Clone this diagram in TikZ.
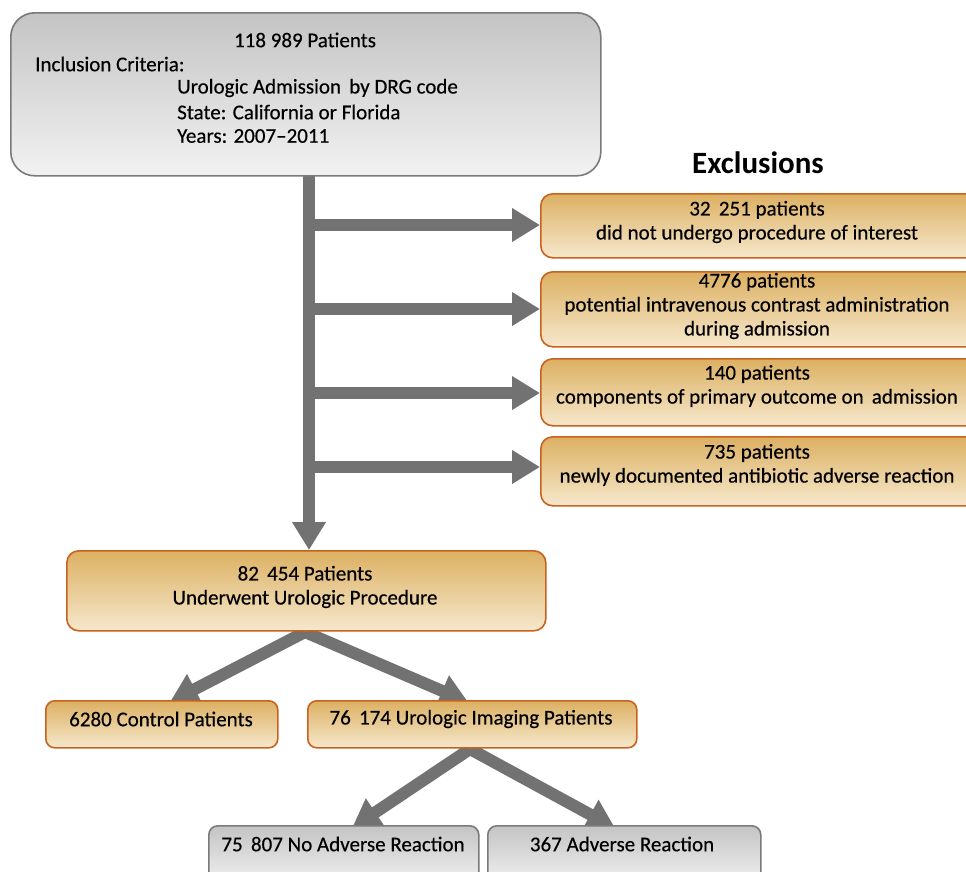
\documentclass[tikz,border=0pt]{standalone}
\usepackage{fontspec}
\setmainfont{Carlito}[FakeBold=0.4]
\newfontfamily\boldhead{Carlito}[FakeStretch=1.0]
\usetikzlibrary{arrows.meta}
\definecolor{arrowgray}{HTML}{727272}
\definecolor{orborder}{HTML}{C8621E}
\definecolor{ortop}{HTML}{DCB062}
\definecolor{orbot}{HTML}{F6E8CC}
\definecolor{grtop}{HTML}{C4C4C4}
\definecolor{grbot}{HTML}{F2F2F2}
\definecolor{grborder}{HTML}{7A7A7A}
\tikzset{
  txt/.style={font=\fontsize{21}{24}\selectfont, inner sep=0pt, align=center},
  orbox/.style={draw=orborder, line width=1.6pt, rounded corners=12pt, top color=ortop, bottom color=orbot, anchor=north west, inner sep=0pt},
  grbox/.style={draw=grborder, line width=1.6pt, rounded corners=12pt, top color=grtop, bottom color=grbot, anchor=north west, inner sep=0pt},
  flow/.style={draw=arrowgray, line width=12pt, -{Triangle[width=32pt,length=28pt]}, arrowgray},
  trunk/.style={draw=arrowgray, line width=12pt}
}
\begin{document}
\begin{tikzpicture}[x=1pt,y=-1pt]
\useasboundingbox (0,0) rectangle (966,871);
\clip (0,0) rectangle (966,871);
\fill[white] (0,0) rectangle (966,871);

% coordinates
\coordinate (t0) at (309,172);
\coordinate (b1) at (309,225);
\coordinate (b2) at (309,309);
\coordinate (b3) at (309,393);
\coordinate (b4) at (309,467);

% connectors (drawn first, boxes cover ends)
\path[flow] (t0) -- (309,550) coordinate (t1);
\path[flow] ([xshift=-6pt]b1) -- (540,225) coordinate (e1w);
\path[flow] ([xshift=-6pt]b2) -- (540,309) coordinate (e2w);
\path[flow] ([xshift=-6pt]b3) -- (540,393) coordinate (e3w);
\path[flow] ([xshift=-6pt]b4) -- (540,467) coordinate (e4w);

\coordinate (p82) at (305,632);
\coordinate (p76) at (470,749);
\path[flow] (p82) -- (170,702) coordinate (c1);
\path[flow] (p82) -- (468,702) coordinate (c2);
\path[flow] (p76) -- (352,828) coordinate (c3);
\path[flow] (p76) -- (615,828) coordinate (c4);

% top box
\node[grbox, rounded corners=24pt, minimum width=590pt, minimum height=163pt] (top) at (10,12) {};
\node[txt] (topa) at (305,40) {118 989 Patients};
\node[txt, anchor=west] (topb) at (35,64) {Inclusion Criteria:};
\node[txt, anchor=west] (topc) at (177,88) {Urologic Admission \,by DRG code};
\node[txt, anchor=west] (topd) at (177,112) {State: California or Florida};
\node[txt, anchor=west] (tope) at (177,136) {Years: 2007--2011};

\node[font=\boldhead\fontsize{31}{34}\selectfont\bfseries, inner sep=0pt] (excl) at (758,163) {Exclusions};

% exclusion boxes
\node[orbox, minimum width=440pt, minimum height=64pt] (ex1) at (540,193) {};
\node[txt] (ex1t) at (757,222) {32 \,251 patients\\did not undergo procedure of interest};
\node[orbox, minimum width=440pt, minimum height=75pt] (ex2) at (540,271) {};
\node[txt] (ex2t) at (757,306) {4776 patients\\potential intravenous contrast administration\\during admission};
\node[orbox, minimum width=440pt, minimum height=67pt] (ex3) at (540,358) {};
\node[txt] (ex3t) at (757,386) {140 patients\\components of primary outcome on \,admission};
\node[orbox, minimum width=440pt, minimum height=69pt] (ex4) at (540,436) {};
\node[txt] (ex4t) at (757,465) {735 patients\\newly documented antibiotic adverse reaction};

% lower boxes
\node[orbox, minimum width=479pt, minimum height=80pt] (b82) at (66,550) {};
\node[txt] (b82t) at (305,587) {82 \,454 Patients\\Underwent Urologic Procedure};
\node[orbox, rounded corners=9pt, minimum width=232pt, minimum height=47pt] (ctl) at (45,700) {};
\node[txt] (ctlt) at (161,719) {6280 Control Patients};
\node[orbox, rounded corners=9pt, minimum width=329pt, minimum height=47pt] (img) at (307,700) {};
\node[txt] (imgt) at (471,719) {76 \,174 Urologic Imaging Patients};
\node[grbox, rounded corners=9pt, minimum width=270pt, minimum height=60pt] (noar) at (208,825) {};
\node[txt] (noart) at (343,844) {75 \,807 No Adverse Reaction};
\node[grbox, rounded corners=9pt, minimum width=273pt, minimum height=60pt] (ar) at (487,825) {};
\node[txt] (art) at (622,844) {367 Adverse Reaction};
\end{tikzpicture}
\end{document}
